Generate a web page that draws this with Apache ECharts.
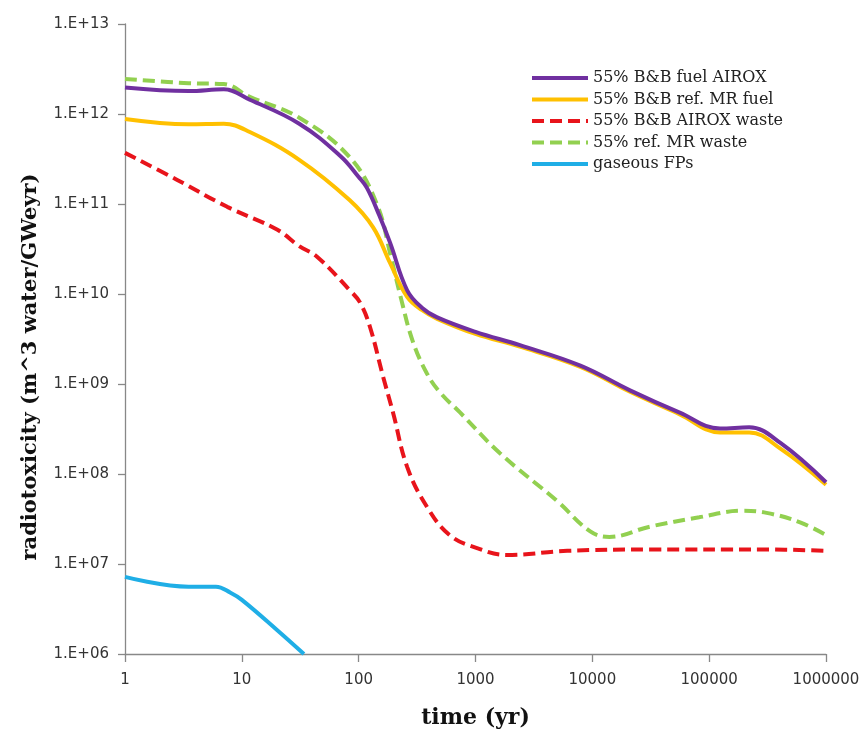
<!DOCTYPE html>
<html>
<head>
<meta charset="utf-8">
<script src="https://cdn.jsdelivr.net/npm/echarts@6/dist/echarts.min.js"></script>
<style>html,body{margin:0;padding:0;background:#fff;}#c{width:867px;height:734px;}</style>
</head>
<body>
<div id="c"></div>
<script>
// ---- data ----
const seriesNames = ['55% B&B fuel AIROX', '55% B&B ref. MR fuel', '55% B&B AIROX waste', '55% ref. MR waste', 'gaseous FPs'];

const fuelAiroxTime = [1, 3.5, 7, 11.7, 31, 70, 100, 118, 150, 186, 260, 350, 470, 1000, 2400, 7900, 21000, 56000, 124000, 220000, 410000, 1000000];
const fuelAiroxVal  = [1.97e12, 1.8e12, 1.88e12, 1.44e12, 7.8e11, 3.4e11, 2.0e11, 1.5e11, 7.5e10, 3.7e10, 1.1e10, 7.0e9, 5.5e9, 3.8e9, 2.7e9, 1.6e9, 8.5e8, 4.8e8, 3.2e8, 3.3e8, 2.2e8, 8.1e7];

const mrFuelTime = [1, 3.5, 7, 11.7, 31, 84, 133, 186, 260, 350, 470, 1000, 2400, 7900, 21000, 56000, 124000, 220000, 410000, 1000000];
const mrFuelVal  = [8.8e11, 7.7e11, 7.8e11, 6.3e11, 3.1e11, 1.1e11, 5.5e10, 2.2e10, 9.3e9, 6.6e9, 5.3e9, 3.6e9, 2.6e9, 1.55e9, 8.2e8, 4.6e8, 2.9e8, 2.9e8, 1.9e8, 7.6e7];

const airoxWasteTime = [1, 2.8, 7.5, 20, 31, 44, 84, 103, 125, 162, 197, 260, 385, 600, 1030, 1860, 6100, 31000, 300000, 1000000];
const airoxWasteVal  = [3.7e11, 1.85e11, 9.3e10, 5.2e10, 3.4e10, 2.6e10, 1.1e10, 8.0e9, 4.3e9, 1.2e9, 4.8e8, 1.2e8, 4.3e7, 2.1e7, 1.5e7, 1.26e7, 1.4e7, 1.45e7, 1.45e7, 1.4e7];

const mrWasteTime = [1, 3.5, 7, 11.7, 31, 84, 143, 190, 230, 290, 385, 500, 740, 1620, 5000, 9600, 14000, 31000, 82000, 190000, 310000, 600000, 1000000];
const mrWasteVal  = [2.45e12, 2.2e12, 2.15e12, 1.55e12, 9.1e11, 3.3e11, 1.0e11, 2.5e10, 9.0e9, 3.0e9, 1.3e9, 8.0e8, 4.8e8, 1.7e8, 5.0e7, 2.3e7, 2.0e7, 2.6e7, 3.3e7, 3.9e7, 3.7e7, 2.9e7, 2.1e7];

const gasTime = [1, 3.5, 6, 8, 10, 20, 34];
const gasVal  = [7.2e6, 5.6e6, 5.6e6, 4.8e6, 4.0e6, 1.85e6, 1.0e6];

// ---- build ----
function pairs(t, v) { return t.map((x, i) => [x, v[i]]); }
const colors = ['#7030A0', '#FFC000', '#E8141B', '#92D050', '#1FAEE6'];
const dashes = ['solid', 'solid', [12, 6], [12, 6], 'solid'];
const datasets = [
  pairs(fuelAiroxTime, fuelAiroxVal),
  pairs(mrFuelTime, mrFuelVal),
  pairs(airoxWasteTime, airoxWasteVal),
  pairs(mrWasteTime, mrWasteVal),
  pairs(gasTime, gasVal)
];
const order = [2, 3, 4, 1, 0]; // draw order (purple on top)
const series = order.map(i => ({
  name: seriesNames[i],
  type: 'line',
  data: datasets[i],
  smooth: 0.4,
  symbol: 'none',
  showSymbol: false,
  clip: true,
  z: 2 + order.indexOf(i),
  lineStyle: { color: colors[i], width: 4, type: dashes[i], cap: 'butt' },
  itemStyle: { color: colors[i] }
}));

const chart = echarts.init(document.getElementById('c'), null, { renderer: 'canvas' });
chart.setOption({
  animation: false,
  backgroundColor: '#ffffff',
  color: colors,
  grid: { left: 125, right: 41, top: 24, bottom: 80, containLabel: false, outerBoundsMode: 'none' },
  legend: {
    orient: 'vertical',
    left: 525,
    top: 65,
    data: seriesNames,
    itemWidth: 56,
    itemHeight: 14,
    itemGap: 5.5,
    itemStyle: { opacity: 0 },
    lineStyle: { width: 4 },
    textStyle: { fontFamily: 'DejaVu Serif', fontSize: 16, color: '#222' }
  },
  xAxis: {
    type: 'log',
    logBase: 10,
    min: 1,
    max: 1000000,
    splitNumber: 6,
    name: 'time (yr)',
    nameLocation: 'middle',
    nameGap: 53,
    nameTextStyle: { fontFamily: 'DejaVu Serif', fontWeight: 'bold', fontSize: 22, color: '#111' },
    axisLine: { lineStyle: { color: '#888', width: 1.3 } },
    axisTick: { show: true, inside: false, length: 8, lineStyle: { color: '#888', width: 1.3 } },
    axisLabel: { margin: 19, fontFamily: 'DejaVu Sans', fontSize: 15, color: '#333',
      formatter: v => String(Math.round(v)) },
    minorTick: { show: false },
    splitLine: { show: false }
  },
  yAxis: {
    type: 'log',
    logBase: 10,
    min: 1e6,
    max: 1e13,
    splitNumber: 7,
    axisLine: { show: true, lineStyle: { color: '#888', width: 1.3 } },
    axisTick: { show: true, inside: false, length: 7, lineStyle: { color: '#888', width: 1.3 } },
    axisLabel: { margin: 16, fontFamily: 'DejaVu Sans', fontSize: 15, color: '#333',
      formatter: v => { const e = Math.round(Math.log10(v)); return '1.E+' + (e < 10 ? '0' + e : e); } },
    splitLine: { show: false }
  },
  graphic: [{
    type: 'text',
    x: 31, y: 367,
    rotation: Math.PI / 2,
    style: {
      text: 'radiotoxicity (m^3 water/GWeyr)',
      fontFamily: 'DejaVu Serif', fontWeight: 'bold', fontSize: 21, fill: '#111',
      align: 'center', verticalAlign: 'middle'
    }
  }],
  series: series
});
</script>
</body>
</html>
